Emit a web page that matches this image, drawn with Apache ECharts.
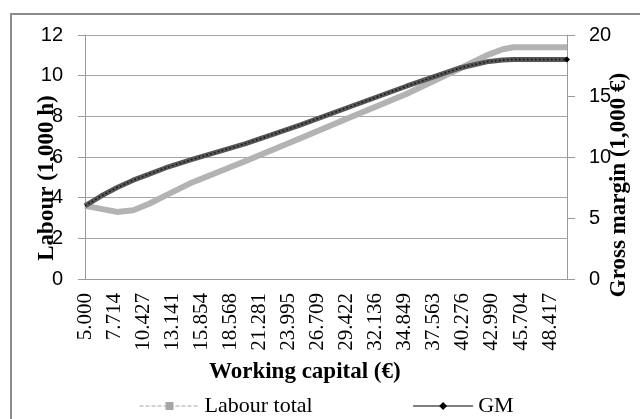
<!DOCTYPE html>
<html lang="en">
<head>
<meta charset="UTF-8">
<title>Labour and gross margin</title>
<style>
html, body { margin: 0; padding: 0; background: #fff; }
#main { width: 640px; height: 419px; }
</style>
</head>
<body>
<div id="main"></div>
<script src="https://cdn.jsdelivr.net/npm/echarts@6/dist/echarts.min.js"></script>
<script>
// working capital (€) and the two series
var capital = [5000, 6500, 8000, 9500, 11000, 12500, 15000, 20000, 25000, 30000, 35000, 40000, 42500, 44000, 45000, 50000];
var labour  = [3.6, 3.45, 3.3, 3.38, 3.7, 4.1, 4.75, 5.8, 6.9, 8.0, 9.1, 10.35, 11.0, 11.3, 11.4, 11.4];
var gm      = [6.0, 6.8, 7.5, 8.1, 8.6, 9.1, 9.8, 11.1, 12.6, 14.2, 15.8, 17.3, 17.8, 17.95, 18.0, 18.0];
var capitalTicks = [5000, 7714, 10427, 13141, 15854, 18568, 21281, 23995, 26709, 29422,
                    32136, 34849, 37563, 40276, 42990, 45704, 48417];

function pairs(ys) {
    return capital.map(function (x, i) { return [x, ys[i]]; });
}

var serif = '"Liberation Serif", "Times New Roman", serif';
var sans = '"Liberation Sans", Arial, sans-serif';

var myChart = echarts.init(document.getElementById('main'));
var option = {
    animation: false,
    grid: { left: 85, right: 73, top: 35, bottom: 140 },
    legend: {
        left: 134,
        top: 390,
        itemWidth: 60,
        itemHeight: 10,
        itemGap: 100,
        textStyle: { fontFamily: serif, fontSize: 22, color: '#000' },
        data: [
            { name: 'Labour total', lineStyle: { width: 1, type: 'dashed', color: '#a6a6a6' }, itemStyle: { color: '#a6a6a6' } },
            { name: 'GM', lineStyle: { width: 1, type: 'solid', color: '#000' }, itemStyle: { color: '#000' } }
        ]
    },
    xAxis: {
        type: 'value',
        min: 5000,
        max: 50000,
        splitLine: { show: false },
        axisTick: { show: false },
        axisLine: { lineStyle: { color: '#9a9a9a' } },
        axisLabel: {
            customValues: capitalTicks,
            rotate: 90,
            margin: 14,
            fontFamily: serif,
            fontSize: 21,
            color: '#000',
            formatter: function (v) { return (v / 1000).toFixed(3); }
        }
    },
    yAxis: [
        {
            type: 'value',
            min: 0,
            max: 12,
            interval: 2,
            axisLine: { show: true, lineStyle: { color: '#9a9a9a' } },
            axisTick: { show: true, length: 7, lineStyle: { color: '#9a9a9a' } },
            splitLine: { lineStyle: { color: '#a6a6a6' } },
            axisLabel: { margin: 22, fontFamily: sans, fontSize: 20, color: '#000' }
        },
        {
            type: 'value',
            min: 0,
            max: 20,
            interval: 5,
            axisLine: { show: true, lineStyle: { color: '#9a9a9a' } },
            axisTick: { show: true, length: 8, lineStyle: { color: '#9a9a9a' } },
            splitLine: { show: false },
            axisLabel: { margin: 22, fontFamily: sans, fontSize: 20, color: '#000' }
        }
    ],
    graphic: [
        {
            type: 'rect', z: -1, silent: true,
            shape: { x: 11, y: 14, width: 700, height: 500 },
            style: { fill: 'none', stroke: '#8c8c8c', lineWidth: 2 }
        },
        {
            type: 'text', left: 209, top: 361,
            style: { text: 'Working capital (€)', font: 'bold 23px ' + serif, fill: '#000' }
        },
        {
            type: 'text', x: 47, y: 178, rotation: Math.PI / 2,
            style: { text: 'Labour (1,000 h)', font: 'bold 23px ' + serif, fill: '#000', align: 'center', verticalAlign: 'middle' }
        },
        {
            type: 'text', x: 619, y: 185, rotation: Math.PI / 2,
            style: { text: 'Gross margin (1,000 €)', font: 'bold 23px ' + serif, fill: '#000', align: 'center', verticalAlign: 'middle' }
        }
    ],
    series: [
        {
            name: 'Labour total',
            type: 'line',
            yAxisIndex: 0,
            symbol: 'rect',
            showSymbol: false,
            lineStyle: { color: '#b3b3b3', width: 6 },
            itemStyle: { color: '#a6a6a6' },
            data: pairs(labour)
        },
        {
            name: 'GM',
            type: 'line',
            yAxisIndex: 1,
            symbol: 'diamond',
            symbolSize: function (v, p) { return p.dataIndex === gm.length - 1 ? 6 : 0; },
            lineStyle: { color: '#555', width: 5 },
            itemStyle: { color: '#000' },
            data: pairs(gm)
        },
        {
            name: 'GM markers',
            type: 'line',
            yAxisIndex: 1,
            showSymbol: false,
            silent: true,
            lineStyle: { color: '#111', width: 1.5, type: [1.5, 2.5] },
            data: pairs(gm)
        }
    ]
};
myChart.setOption(option);
</script>
</body>
</html>
